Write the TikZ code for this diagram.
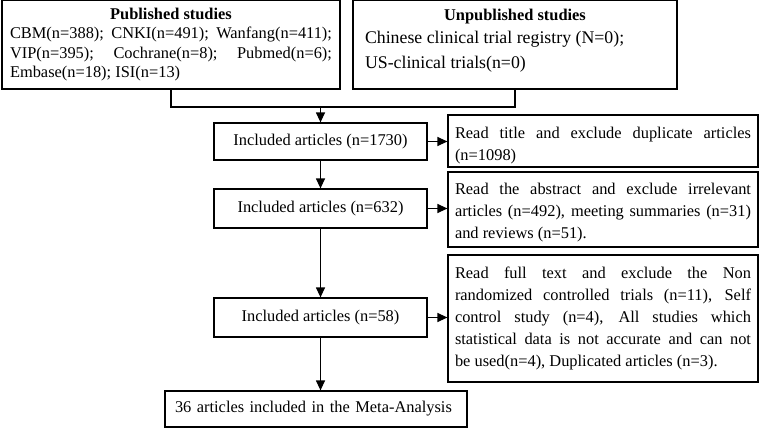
\documentclass[tikz,border=0pt]{standalone}
\usepackage{fontspec}
\setmainfont{Liberation Serif}
\usetikzlibrary{arrows.meta}

\begin{document}
\begin{tikzpicture}[x=1pt,y=-1pt,line width=1.2pt,>={Triangle[length=10pt,width=9pt]},
  box/.style={draw,rectangle,inner sep=0pt,font=\fontsize{16.4}{22}\selectfont},
  incbox/.style={box,minimum width=213pt},
  exbox/.style={box,text width=296pt,inner xsep=7pt,align=justify},
  srcbox/.style={box,minimum height=89pt,align=justify}]
\useasboundingbox (0,0) rectangle (760,428);

\node[srcbox,text width=322pt,inner xsep=8pt,font=\fontsize{16.4}{19.5}\selectfont] (pub) at (171,44.5)
  {\hspace*{\fill}\textbf{Published studies}\hspace*{\fill}\\
   CBM(n=388); CNKI(n=491); Wanfang(n=411);\linebreak VIP(n=395); Cochrane(n=8); Pubmed(n=6);\linebreak Embase(n=18); ISI(n=13)};
\node[srcbox,text width=300pt,inner xsep=12pt,font=\fontsize{17.8}{25}\selectfont] (unpub) at (515,44.5)
  {\hspace*{\fill}{\fontsize{16.4}{22}\selectfont\textbf{Unpublished studies}}\hspace*{\fill}\\[-2.5pt]
   Chinese clinical trial registry (N=0);\\ US-clinical trials(n=0)\rule[-11.5pt]{0pt}{1pt}};

\node[incbox,minimum height=37pt] (inc1) at (320.5,141.5) {Included articles (n=1730)};
\node[incbox,minimum height=39pt] (inc2) at (320.5,208.5) {Included articles (n=632)};
\node[incbox,minimum height=39pt] (inc3) at (320.5,317.5) {Included articles (n=58)};
\node[box,minimum height=36pt,text width=282pt,inner xsep=10pt,align=left] (meta) at (316,409) {36 articles included in the Meta-Analysis};

\node[exbox,minimum height=52pt] (ex1) at (603,141) {\rule{0pt}{21pt}Read title and exclude duplicate articles\linebreak (n=1098)};
\node[exbox,minimum height=75pt] (ex2) at (603,209.5) {\rule{0pt}{17pt}Read the abstract and exclude irrelevant\linebreak articles (n=492), meeting summaries (n=31)\linebreak and reviews (n=51).};
\node[exbox,minimum height=127pt] (ex3) at (603,318.5) {Read full text and exclude the Non\linebreak randomized controlled trials (n=11), Self\linebreak control study (n=4), All studies which\linebreak statistical data is not accurate and can not\linebreak be used(n=4), Duplicated articles (n=3).};

\coordinate (join) at (320.5,107);
\draw (pub.south) |- (join) -| (unpub.south);
\draw[->] (join) -- (inc1);
\draw[->] (inc1) -- (inc2);
\draw[->] (inc2) -- (inc3);
\draw[->] (inc3.south) -- (inc3.south |- meta.north);

\draw[->] (inc1.east) -- (inc1.east -| ex1.west);
\draw[->] (inc2.east) -- (inc2.east -| ex2.west);
\draw[->] (inc3.east) -- (inc3.east -| ex3.west);
\end{tikzpicture}
\end{document}
